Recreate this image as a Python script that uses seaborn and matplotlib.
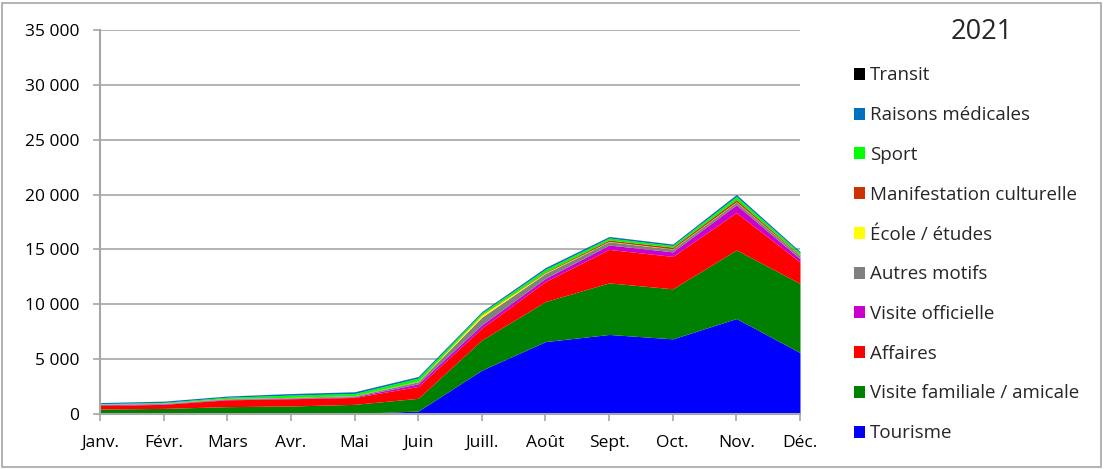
import numpy as np
import pandas as pd
import matplotlib.pyplot as plt
import seaborn as sns
from matplotlib.patches import Patch, Rectangle
from matplotlib.ticker import FuncFormatter

sns.set_theme(style="white")
plt.rcParams["font.family"] = ["Open Sans", "DejaVu Sans"]

mois = ["Janv.", "Févr.", "Mars", "Avr.", "Mai", "Juin",
        "Juill.", "Août", "Sept.", "Oct.", "Nov.", "Déc."]

# séries empilées (du bas vers le haut)
tourisme = [30, 30, 40, 40, 50, 270, 4000, 6600, 7250, 6850, 8700, 5600]
visite_familiale = [420, 480, 630, 690, 830, 1160, 2750, 3650, 4700, 4560, 6250, 6300]
affaires = [320, 370, 620, 660, 630, 1080, 1080, 1820, 3050, 2950, 3400, 1950]
visite_officielle = [70, 50, 50, 50, 60, 240, 300, 300, 400, 420, 720, 300]
autres_motifs = [50, 50, 60, 60, 80, 200, 700, 450, 300, 250, 250, 250]
ecole = [10, 10, 10, 10, 10, 30, 200, 60, 30, 30, 30, 20]
manifestation = [5, 5, 10, 10, 20, 30, 40, 80, 130, 150, 200, 80]
sport = [40, 60, 110, 200, 190, 260, 150, 230, 180, 150, 280, 180]
medicales = [90, 110, 100, 140, 150, 140, 110, 150, 130, 120, 170, 120]
transit = [5, 5, 5, 5, 5, 10, 10, 10, 10, 10, 10, 10]

categories = ["Tourisme", "Visite familiale / amicale", "Affaires", "Visite officielle",
              "Autres motifs", "École / études", "Manifestation culturelle", "Sport",
              "Raisons médicales", "Transit"]
couleurs = ["#0000FF", "#008000", "#FF0000", "#CC00CC", "#808080",
            "#FFFF00", "#CC3300", "#00FF00", "#0070C0", "#000000"]

df = pd.DataFrame({
    "Tourisme": tourisme,
    "Visite familiale / amicale": visite_familiale,
    "Affaires": affaires,
    "Visite officielle": visite_officielle,
    "Autres motifs": autres_motifs,
    "École / études": ecole,
    "Manifestation culturelle": manifestation,
    "Sport": sport,
    "Raisons médicales": medicales,
    "Transit": transit,
}, index=mois)

fig = plt.figure(figsize=(11.04, 4.69), dpi=100)
ax = fig.add_axes([100 / 1104, 1 - 414 / 469, 700 / 1104, 384 / 469])

x = np.arange(len(mois))
ax.stackplot(x, [df[c].values for c in categories], colors=couleurs, linewidth=0)

ax.set_xlim(0, len(mois) - 1)
ax.set_ylim(0, 35000)
ax.set_yticks(range(0, 35001, 5000))
ax.yaxis.set_major_formatter(FuncFormatter(lambda v, p: f"{int(v):,}".replace(",", " ")))
ax.set_xticks(x)
ax.set_xticklabels(mois)
ax.grid(axis="y", color="#a6a6a6", linewidth=1.2)
ax.set_axisbelow(True)
for s in ["top", "right"]:
    ax.spines[s].set_visible(False)
for s in ["left", "bottom"]:
    ax.spines[s].set_color("#a6a6a6")
    ax.spines[s].set_linewidth(1.5)
ax.tick_params(axis="both", which="major", length=5, width=1.2, color="#a6a6a6",
               labelsize=12.5, labelcolor="#000000", direction="out",
               bottom=True, left=True)
ax.tick_params(axis="x", pad=10)
ax.tick_params(axis="y", pad=10)

handles = [Patch(facecolor=c, edgecolor="none") for c in couleurs]
leg = fig.legend(handles[::-1], categories[::-1], loc="upper left",
                 bbox_to_anchor=(846 / 1104, 1 - 59 / 469), frameon=False,
                 fontsize=13.5, handlelength=0.6, handleheight=0.6,
                 handletextpad=0.3, labelspacing=1.16, borderaxespad=0)
fig.text(982 / 1104, 1 - 32 / 469, "2021", fontsize=19.5, ha="center", va="center")

fig.add_artist(Rectangle((0.002, 0.004), 0.995, 0.99, transform=fig.transFigure,
                         fill=False, edgecolor="#a6a6a6", linewidth=1.2))

plt.savefig("out.png", dpi=100)
